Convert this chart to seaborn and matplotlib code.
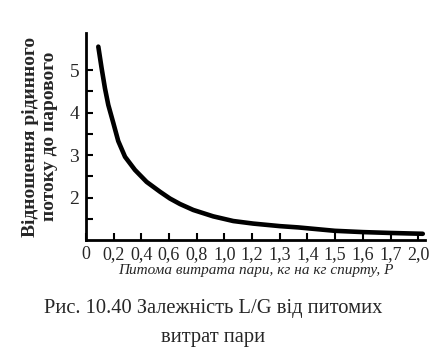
"""
Рис. 10.40 - залежність L/G від питомих витрат пари.
"""

import matplotlib
matplotlib.use("Agg")
import matplotlib.pyplot as plt
import pandas as pd
import seaborn as sns

# x measured along the evenly spaced tick positions (one tick step = 0.2)
steam_pos = [0.089, 0.113, 0.137, 0.161, 0.197, 0.233, 0.282, 0.354, 0.438,
             0.534, 0.606, 0.679, 0.775, 0.919, 1.064, 1.208, 1.401, 1.533,
             1.798, 2.000, 2.195, 2.433]
lg_ratio = [5.55, 5.04, 4.57, 4.18, 3.76, 3.33, 2.96, 2.65, 2.37,
            2.14, 1.98, 1.85, 1.71, 1.56, 1.45, 1.39, 1.33, 1.30,
            1.22, 1.19, 1.17, 1.15]

x_tick_pos = [0.0, 0.2, 0.4, 0.6, 0.8, 1.0, 1.2, 1.4, 1.6, 1.8, 2.0, 2.2, 2.4]
x_tick_labels = ["0", "0,2", "0,4", "0,6", "0,8", "1,0", "1,2", "1,3",
                 "1,4", "1,5", "1,6", "1,7", "2,0"]
y_major = [2, 3, 4, 5]
y_minor = [1.5, 2.5, 3.5, 4.5]

sns.set_style("ticks")
plt.rcParams["font.family"] = ["Liberation Serif", "DejaVu Serif"]

df = pd.DataFrame({"P": steam_pos, "LG": lg_ratio})

fig = plt.figure(figsize=(4.41, 3.59), dpi=100)
ax = fig.add_axes([0.195, 0.331, 0.769, 0.577])

sns.lineplot(data=df, x="P", y="LG", ax=ax, color="black", linewidth=3.3)

ax.set_xlim(0, 2.45)
ax.set_ylim(1.0, 5.87)
ax.set_xticks(x_tick_pos)
ax.set_xticklabels(x_tick_labels, fontsize=13)
ax.set_yticks(y_major)
ax.set_yticks(y_minor, minor=True)
ax.set_yticklabels([str(v) for v in y_major], fontsize=14)
ax.tick_params(axis="both", which="both", direction="in", length=5,
               width=1.5, color="black", pad=5)
ax.tick_params(axis="x", pad=4)

sns.despine(ax=ax)
for side in ["left", "bottom"]:
    ax.spines[side].set_linewidth(2.0)
    ax.spines[side].set_color("black")

ax.set_xlabel("Питома витрата пари, кг на кг спирту, P", fontsize=11,
              fontstyle="italic", labelpad=1)
ax.set_ylabel("Відношення рідинного\nпотоку до парового", fontsize=14,
              fontweight="bold", labelpad=8, linespacing=1.15)

fig.text(0.483, 0.10, "Рис. 10.40 Залежність L/G від питомих\nвитрат пари",
         ha="center", va="center", fontsize=14.8, linespacing=1.75)

fig.savefig("out.png", dpi=100)
plt.close(fig)
